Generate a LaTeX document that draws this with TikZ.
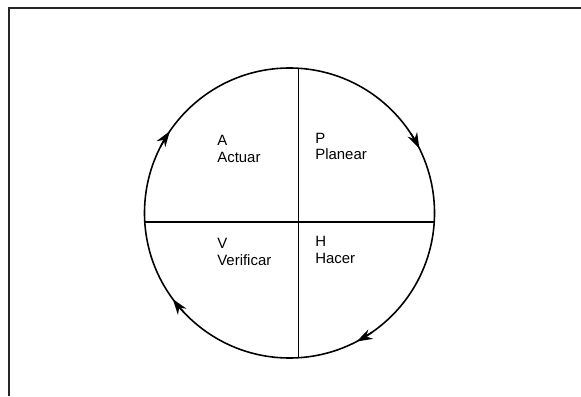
\documentclass[tikz,border=0pt]{standalone}
\usepackage{fontspec}
\setmainfont{Liberation Sans}
\usepackage{tikz}
\usetikzlibrary{arrows.meta,calc}

\begin{document}
\begin{tikzpicture}[x=0.02cm,y=0.02cm,>={Stealth[length=9pt,width=6pt]},
    quad/.style={anchor=base west,align=left,inner sep=0pt,
                 font=\fontsize{8.5}{9.6}\selectfont},
    cyc/.style={->,line width=0.9pt}]
  \useasboundingbox (0,0) rectangle (581,396);
  \draw[line width=1.1pt,black!85] (9,0) -- (9,388) -- (581,388);

  % circulo y cuadrantes
  \coordinate (c) at (289.5,183);
  \coordinate (w) at ($(c)+(-144.72,-9)$);
  \coordinate (e) at ($(c)+(144.72,-9)$);
  \coordinate (n) at ($(c)+(9,144.72)$);
  \coordinate (s) at ($(c)+(9,-144.72)$);
  \draw[line width=0.9pt] (c) circle (145);
  \draw[line width=0.9pt] (w) -- (e);
  \draw[line width=0.9pt] (n) -- (s);

  % flechas del ciclo
  \draw[cyc] ($(c)+(152.6:145)$) arc (152.6:145.6:145);
  \draw[cyc] ($(c)+(33.4:145)$) arc (33.4:26.4:145);
  \draw[cyc] ($(c)+(-55.4:145)$) arc (-55.4:-62.4:145);
  \draw[cyc] ($(c)+(223.4:145)$) arc (223.4:216.4:145);

  \node[quad] (act) at (217,234) {A\\Actuar};
  \node[quad] (pla) at (315,236) {P\\Planear};
  \node[quad] (ver) at (217,131) {V\\Verificar};
  \node[quad] (hac) at (315,133) {H\\Hacer};
\end{tikzpicture}
\end{document}
